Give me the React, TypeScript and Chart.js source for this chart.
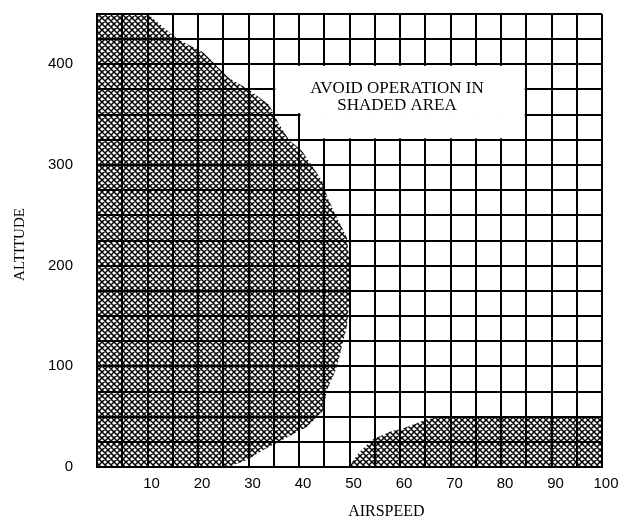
import React, { useEffect, useRef } from "react";
import { Chart, registerables } from "chart.js";

Chart.register(...registerables);

// ---- data ----
const xTickLabels = [10, 20, 30, 40, 50, 60, 70, 80, 90, 100];
const yTickLabels = [0, 100, 200, 300, 400];
const xTitle = "AIRSPEED";
const yTitle = "ALTITUDE";
const noteLines = ["AVOID OPERATION IN", "SHADED AREA"];

// left (low-speed) shaded region boundary, airspeed / altitude
const leftShadeX = [0, 10, 16, 21, 26, 30, 34, 36, 38, 40.6, 42.6, 44.6, 45.7, 47.5, 49.5, 50, 50, 49.5, 48.5, 47.5, 45.5, 44.8, 41.6, 36.8, 32.9, 29.7, 26, 0];
const leftShadeY = [450, 450, 425, 412, 387, 375, 360, 341, 325, 314, 299, 284, 267, 248, 228, 202, 168, 140, 120, 99, 76, 56, 40, 27, 17, 7, 0, 0];

// bottom (high-speed, low altitude) shaded region boundary
const rightShadeX = [49.5, 50.5, 52, 54.5, 58, 61.5, 65, 68, 100, 100];
const rightShadeY = [0, 5, 15, 27, 35, 40, 47, 50, 50, 0];

// note box corners (airspeed / altitude)
const noteBoxUpper = { x0: 35, x1: 85, y0: 350, y1: 400 };
const noteBoxLower = { x0: 40, x1: 85, y0: 325, y1: 350 };
const notePos = { x: 59.4, y1: 376, y2: 359 };
const xTitlePos = 57.3;

function toPoints(xs: number[], ys: number[]) {
  return xs.map((x, i) => ({ x, y: ys[i] }));
}

function makePattern(): CanvasPattern | string {
  const pc = document.createElement("canvas");
  pc.width = 6;
  pc.height = 6;
  const g = pc.getContext("2d");
  if (!g) return "#777";
  g.fillStyle = "#fff";
  g.fillRect(0, 0, 6, 6);
  g.strokeStyle = "#000";
  g.lineWidth = 1.5;
  g.beginPath();
  g.moveTo(-1, -1); g.lineTo(7, 7);
  g.moveTo(-1, 5); g.lineTo(1, 7);
  g.moveTo(5, -1); g.lineTo(7, 1);
  g.moveTo(-1, 7); g.lineTo(7, -1);
  g.moveTo(-1, 1); g.lineTo(1, -1);
  g.moveTo(5, 7); g.lineTo(7, 5);
  g.stroke();
  const p = g.createPattern(pc, "repeat");
  return p || "#777";
}

const notePlugin = {
  id: "notePlugin",
  afterDraw(chart: any) {
    const { ctx, scales } = chart;
    const xs = scales.x;
    const ys = scales.y;
    ctx.save();
    ctx.fillStyle = "#fff";
    for (const b of [noteBoxUpper, noteBoxLower]) {
      const l = xs.getPixelForValue(b.x0) + 1.5;
      const r = xs.getPixelForValue(b.x1) - 1.5;
      const t = ys.getPixelForValue(b.y1) + 1.5;
      const bt = ys.getPixelForValue(b.y0) - 1.5;
      ctx.fillRect(l, t, r - l, bt - t);
    }
    {
      const l = xs.getPixelForValue(noteBoxLower.x0) + 1.5;
      const r = xs.getPixelForValue(noteBoxLower.x1) - 1.5;
      const y = ys.getPixelForValue(noteBoxLower.y1);
      ctx.fillRect(l, y - 2, r - l, 4);
    }
    ctx.fillStyle = "#000";
    ctx.textAlign = "center";
    ctx.textBaseline = "middle";
    ctx.font = "17px 'Liberation Serif', 'DejaVu Serif', serif";
    const nx = xs.getPixelForValue(notePos.x);
    ctx.fillText(noteLines[0], nx, ys.getPixelForValue(notePos.y1));
    ctx.fillText(noteLines[1], nx, ys.getPixelForValue(notePos.y2));

    ctx.font = "16px 'Liberation Serif', 'DejaVu Serif', serif";
    ctx.fillText(xTitle, xs.getPixelForValue(xTitlePos), chart.chartArea.bottom + 45);
    ctx.save();
    ctx.font = "15px 'Liberation Serif', 'DejaVu Serif', serif";
    ctx.translate(20, (chart.chartArea.top + chart.chartArea.bottom) / 2 + 4);
    ctx.rotate(-Math.PI / 2);
    ctx.fillText(yTitle, 0, 0);
    ctx.restore();
    ctx.restore();
  },
};

export default function App() {
  const ref = useRef<HTMLCanvasElement | null>(null);
  useEffect(() => {
    if (!ref.current) return;
    const pattern = makePattern();
    const shadeStyle = {
      fill: "shape",
      backgroundColor: pattern as any,
      borderColor: "rgba(0,0,0,0)",
      borderWidth: 0,
      pointRadius: 0,
      tension: 0,
    };
    const chart = new Chart(ref.current, {
      type: "line",
      data: {
        datasets: [
          { data: toPoints(leftShadeX, leftShadeY), ...shadeStyle } as any,
          { data: toPoints(rightShadeX, rightShadeY), ...shadeStyle } as any,
        ],
      },
      options: {
        responsive: false,
        animation: false,
        layout: { padding: { top: 14, right: 16, left: 0, bottom: 0 } },
        plugins: { legend: { display: false }, tooltip: { enabled: false } },
        scales: {
          x: {
            type: "linear",
            min: 0,
            max: 100,
            afterFit: (s: any) => { s.height = 54; },
            border: { display: true, color: "#000", width: 2, z: 1 },
            grid: { color: "#000", lineWidth: 2, drawTicks: true, tickLength: 6, tickColor: "rgba(0,0,0,0)", z: 1 },
            ticks: {
              stepSize: 5,
              padding: 2,
              labelOffset: 4,
              maxRotation: 0,
              autoSkip: false,
              color: "#000",
              font: { family: "'Liberation Sans', Arial, sans-serif", size: 15 },
              callback: (v: any) => (xTickLabels.includes(Number(v)) ? String(v) : ""),
            },
          },
          y: {
            type: "linear",
            min: 0,
            max: 450,
            afterFit: (s: any) => { s.width = 97; },
            border: { display: true, color: "#000", width: 2, z: 1 },
            grid: { color: "#000", lineWidth: 2, drawTicks: true, tickLength: 20, tickColor: "rgba(0,0,0,0)", z: 1 },
            ticks: {
              stepSize: 25,
              padding: 4,
              autoSkip: false,
              color: "#000",
              font: { family: "'Liberation Sans', Arial, sans-serif", size: 15 },
              callback: (v: any) => (yTickLabels.includes(Number(v)) ? String(v) : ""),
            },
          },
        },
      },
      plugins: [notePlugin],
    });
    return () => chart.destroy();
  }, []);
  return (
    <div style={{ position: "fixed", left: 0, top: 0, width: 618, height: 521, background: "#fff" }}>
      <canvas ref={ref} width={618} height={521} style={{ display: "block" }} />
    </div>
  );
}
